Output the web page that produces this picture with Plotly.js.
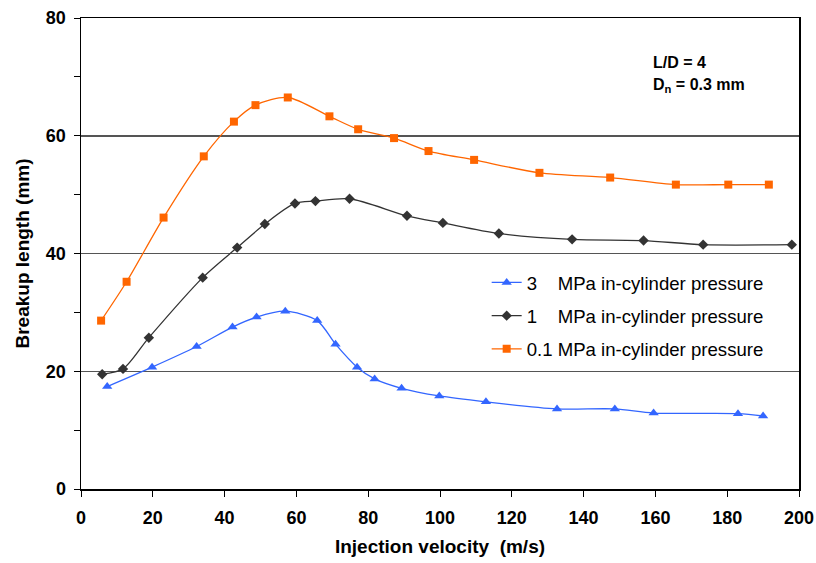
<!DOCTYPE html>
<html>
<head>
<meta charset="utf-8">
<script src="https://cdn.plot.ly/plotly-3.0.1.min.js"></script>
<style>html,body{margin:0;padding:0;background:#fff;}#chart{width:816px;height:563px;}</style>
</head>
<body>
<div id="chart"></div>
<script>
// 0.1 MPa in-cylinder pressure
const vel01 = [5.6, 12.7, 23.0, 34.2, 42.6, 48.6, 57.6, 69.2, 77.2, 87.2, 96.8, 109.5, 127.7, 147.4, 165.7, 180.3, 191.6];
const len01 = [28.6, 35.2, 46.1, 56.5, 62.4, 65.2, 66.5, 63.3, 61.1, 59.6, 57.4, 55.9, 53.7, 52.9, 51.7, 51.7, 51.7];
// 1 MPa in-cylinder pressure
const vel1 = [5.9, 11.7, 18.9, 33.9, 43.5, 51.2, 59.6, 65.3, 74.8, 90.8, 100.8, 116.4, 136.8, 156.7, 173.3, 198.0];
const len1 = [19.5, 20.4, 25.7, 35.9, 41.0, 45.0, 48.5, 48.9, 49.3, 46.4, 45.2, 43.4, 42.4, 42.2, 41.5, 41.5];
// 3 MPa in-cylinder pressure
const vel3 = [7.3, 19.8, 32.2, 42.2, 48.9, 56.9, 65.8, 70.9, 76.9, 81.8, 89.3, 99.8, 112.8, 132.6, 148.7, 159.5, 183.0, 190.0];
const len3 = [17.4, 20.7, 24.2, 27.5, 29.2, 30.2, 28.6, 24.6, 20.7, 18.7, 17.1, 15.8, 14.8, 13.6, 13.6, 12.9, 12.8, 12.4];

const names = ["3\u00a0\u00a0\u00a0\u00a0MPa in-cylinder pressure", "1\u00a0\u00a0\u00a0\u00a0MPa in-cylinder pressure", "0.1 MPa in-cylinder pressure"];
const xTicks = [0, 20, 40, 60, 80, 100, 120, 140, 160, 180, 200];
const yTicks = [0, 20, 40, 60, 80];

const traces = [
  {x: vel3, y: len3, name: names[0], legendgroup: "a", mode: "lines+markers",
   line: {color: "#3366FF", width: 1.3, shape: "spline", smoothing: 0.8},
   marker: {symbol: "triangle-up", size: 9, color: "#3366FF"}},
  {x: vel1, y: len1, name: names[1], legendgroup: "b", mode: "lines+markers",
   line: {color: "#333333", width: 1.3, shape: "spline", smoothing: 0.8},
   marker: {symbol: "diamond", size: 8, color: "#333333"}},
  {x: vel01, y: len01, name: names[2], legendgroup: "c", mode: "lines+markers",
   line: {color: "#FF6600", width: 1.3, shape: "spline", smoothing: 0.8},
   marker: {symbol: "square", size: 8, color: "#FF6600"}}
];

const FONT = "Liberation Sans, Arial, sans-serif";
const layout = {
  width: 816, height: 563,
  margin: {l: 81, r: 17, t: 18, b: 74},
  paper_bgcolor: "#fff", plot_bgcolor: "#fff",
  font: {family: FONT, color: "#000"},
  showlegend: true,
  legend: {x: 0.565, y: 0.478, xanchor: "left", yanchor: "top", bgcolor: "rgba(255,255,255,0)",
    font: {size: 18.6, color: "#000"}, tracegroupgap: 6, itemwidth: 30},
  xaxis: {range: [0, 200], tickvals: xTicks, ticktext: xTicks.map(String),
    showline: true, linecolor: "#000", linewidth: 1.5, mirror: true,
    ticks: "outside", ticklen: 6, tickcolor: "#000", showgrid: false, zeroline: false,
    ticklabelstandoff: 6,
    tickfont: {size: 18, family: FONT, weight: "bold"},
    title: {text: "<b>Injection velocity  (m/s)</b>", font: {size: 19}, standoff: 12}},
  yaxis: {range: [0, 80], tickvals: yTicks, ticktext: yTicks.map(String),
    showline: true, linecolor: "#000", linewidth: 1.5, mirror: true,
    ticks: "outside", ticklen: 6, tickcolor: "#000",
    ticklabelstandoff: 4,
    minor: {dtick: 10, ticks: "outside", ticklen: 6, tickcolor: "#000", showgrid: false},
    showgrid: true, gridcolor: "#555", gridwidth: 1.5, zeroline: false,
    tickfont: {size: 18, family: FONT, weight: "bold"},
    title: {text: "<b>Breakup length (mm)</b>", font: {size: 19}, standoff: 11}},
  annotations: [
    {xref: "paper", yref: "paper", x: (651-81)/718, y: (489.3-62)/471.6, xanchor: "left", yanchor: "middle",
     text: "<b>L/D = 4</b>", showarrow: false, font: {size: 16}},
    {xref: "paper", yref: "paper", x: (651-81)/718, y: (489.3-85)/471.6, xanchor: "left", yanchor: "middle",
     text: "<b>D<sub>n</sub> = 0.3 mm</b>", showarrow: false, font: {size: 16}}
  ]
};

Plotly.newPlot("chart", traces, layout, {displayModeBar: false, staticPlot: true});
</script>
</body>
</html>
